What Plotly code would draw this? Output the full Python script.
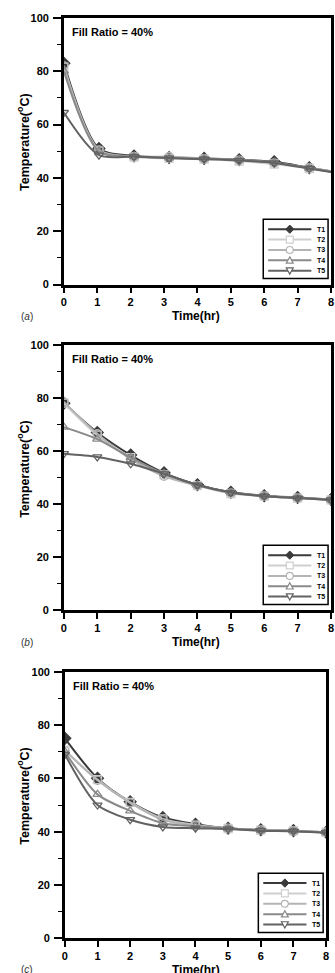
import plotly.graph_objects as go

# ---------------- data ----------------
series_names = ["T1", "T2", "T3", "T4", "T5"]

time_a = [0, 1.05, 2.1, 3.15, 4.2, 5.25, 6.3, 7.35, 8.4]
a_T1 = [83, 51, 48.2, 47.6, 47.3, 46.8, 46.0, 43.8, 41.6]
a_T2 = [81.5, 50, 47.8, 47.3, 47.0, 46.3, 45.2, 43.5, 41.5]
a_T3 = [82, 50.5, 48.0, 48.0, 47.2, 46.6, 45.6, 43.8, 41.7]
a_T4 = [80, 50, 48.0, 47.5, 47.2, 46.8, 45.8, 43.6, 41.6]
a_T5 = [64.5, 48.5, 48.0, 47.4, 47.0, 46.5, 45.6, 43.5, 41.4]

time_b = [0, 1, 2, 3, 4, 5, 6, 7, 8]
b_T1 = [78, 67, 58.5, 51.8, 47.3, 44.5, 43.2, 42.5, 41.8]
b_T2 = [78, 66, 57.5, 51.0, 47.0, 44.0, 43.0, 42.3, 41.6]
b_T3 = [78.5, 66.5, 57.0, 50.5, 47.0, 44.2, 43.0, 42.3, 41.6]
b_T4 = [69, 64.5, 57.5, 51.5, 47.2, 44.4, 43.1, 42.4, 41.7]
b_T5 = [59, 57.8, 55.2, 51.4, 47.2, 44.4, 43.0, 42.3, 41.6]

time_c = [0, 1, 2, 3, 4, 5, 6, 7, 8]
c_T1 = [75, 60, 51.2, 45.3, 42.8, 41.3, 40.7, 40.4, 39.8]
c_T2 = [70.6, 59.5, 51.0, 44.8, 42.5, 41.2, 40.6, 40.3, 39.8]
c_T3 = [70.4, 59.3, 50.8, 44.5, 42.3, 41.2, 40.6, 40.3, 39.8]
c_T4 = [70, 54, 47.8, 43.2, 42.0, 41.1, 40.5, 40.2, 39.7]
c_T5 = [69, 50, 44.5, 41.8, 41.3, 41.0, 40.4, 40.2, 39.6]

x_ticks = [0, 1, 2, 3, 4, 5, 6, 7, 8]
y_ticks = [0, 20, 40, 60, 80, 100]
panel_tags = ["a", "b", "c"]
fill_text = "Fill Ratio = 40%"

# ---------------- styles ----------------
colors = ["#3a3a3a", "#cfcfcf", "#b4b4b4", "#8a8a8a", "#626262"]
symbols = ["diamond", "square-open", "circle-open", "triangle-up-open", "triangle-down-open"]

panels = [
    (time_a, [a_T1, a_T2, a_T3, a_T4, a_T5]),
    (time_b, [b_T1, b_T2, b_T3, b_T4, b_T5]),
    (time_c, [c_T1, c_T2, c_T3, c_T4, c_T5]),
]

W, H = 335, 973
# plot-area pixel boxes (left, right, top, bottom)
boxes = [(62, 334, 12, 282), (62, 334, 343, 612), (63, 329, 674, 944)]

font_fam = "Liberation Sans, Arial, sans-serif"
fig = go.Figure()

for i, (t, vals) in enumerate(panels):
    sfx = "" if i == 0 else str(i + 1)
    for j, name in enumerate(series_names):
        fig.add_trace(go.Scatter(
            x=t, y=vals[j], name=name, mode="lines+markers",
            line=dict(color=colors[j], width=2, shape="spline", smoothing=0.8),
            marker=dict(symbol=symbols[j], size=9 if j == 0 else 8, color=colors[j],
                        line=dict(color=colors[j], width=1.3)),
            xaxis="x" + sfx, yaxis="y" + sfx, showlegend=False,
        ))

def px(x):
    return x / W

def py(y):
    return 1 - y / H

layout = dict(
    width=W, height=H, autosize=False,
    margin=dict(l=0, r=0, t=0, b=0),
    paper_bgcolor="white", plot_bgcolor="white",
    showlegend=False,
    annotations=[], shapes=[],
)

for i, (l, r, tp, bt) in enumerate(boxes):
    sfx = "" if i == 0 else str(i + 1)
    axis_common = dict(
        showline=True, linecolor="black", linewidth=2.5, mirror=True,
        showgrid=False, zeroline=False,
        ticks="outside", tickwidth=1.5, tickcolor="black",
        tickfont=dict(family=font_fam, size=11, color="black", weight="bold"),
    )
    layout["xaxis" + sfx] = dict(
        axis_common, domain=[px(l), px(r)], range=[0, 8], tickvals=x_ticks,
        ticklen=6, ticklabelstandoff=0, anchor="y" + sfx,
    )
    layout["yaxis" + sfx] = dict(
        axis_common, domain=[py(bt), py(tp)], range=[0, 100], tickvals=y_ticks,
        ticklen=8, ticklabelstandoff=2,
        minor=dict(ticks="outside", dtick=10, ticklen=4, tickwidth=1.2, tickcolor="black"),
        anchor="x" + sfx,
    )
    ann = layout["annotations"]
    ann.append(dict(
        text=fill_text, xref="paper", yref="paper",
        x=px(l + 6), y=py(tp + 14), xanchor="left", yanchor="middle",
        showarrow=False, font=dict(family=font_fam, size=11, color="black", weight="bold"),
    ))
    ann.append(dict(
        text="Time(hr)", xref="paper", yref="paper",
        x=px(197), y=py(bt + 32), xanchor="center", yanchor="middle",
        showarrow=False, font=dict(family=font_fam, size=12, color="black", weight="bold"),
    ))
    ann.append(dict(
        text="Temperature(<sup>o</sup>C)", xref="paper", yref="paper", textangle=-90,
        x=px(21), y=py(tp + 126), xanchor="center", yanchor="middle",
        showarrow=False, font=dict(family=font_fam, size=12.5, color="black", weight="bold"),
    ))
    ann.append(dict(
        text="(<i>" + panel_tags[i] + "</i>)", xref="paper", yref="paper",
        x=px(24), y=py(bt + 32), xanchor="center", yanchor="middle",
        showarrow=False, font=dict(family=font_fam, size=10, color="#333"),
    ))

    # ---- compact legend box (drawn as layout decorations) ----
    bw, bh = 66, 60
    bx1, by1 = r - 3, bt - 6
    bx0, by0 = bx1 - bw, by1 - bh
    shp = layout["shapes"]
    shp.append(dict(type="rect", xref="paper", yref="paper",
                    x0=px(bx0), x1=px(bx1), y0=py(by1), y1=py(by0),
                    fillcolor="white", line=dict(color="black", width=1.5), layer="above"))
    for j, name in enumerate(series_names):
        cy = by0 + 10 + j * 10.5
        lx0, lx1 = bx0 + 5, bx0 + 49
        mx = (lx0 + lx1) / 2
        c = colors[j]
        shp.append(dict(type="line", xref="paper", yref="paper",
                        x0=px(lx0), x1=px(lx1), y0=py(cy), y1=py(cy),
                        line=dict(color=c, width=2), layer="above"))
        s = 3.5
        if j == 0:
            path = f"M {px(mx)},{py(cy - s - 0.7)} L {px(mx + s + 0.7)},{py(cy)} L {px(mx)},{py(cy + s + 0.7)} L {px(mx - s - 0.7)},{py(cy)} Z"
            shp.append(dict(type="path", xref="paper", yref="paper", path=path,
                            fillcolor=c, line=dict(color=c, width=1), layer="above"))
        elif j == 1:
            shp.append(dict(type="rect", xref="paper", yref="paper",
                            x0=px(mx - s), x1=px(mx + s), y0=py(cy + s), y1=py(cy - s),
                            fillcolor="white", line=dict(color=c, width=1.2), layer="above"))
        elif j == 2:
            shp.append(dict(type="circle", xref="paper", yref="paper",
                            x0=px(mx - s), x1=px(mx + s), y0=py(cy + s), y1=py(cy - s),
                            fillcolor="white", line=dict(color=c, width=1.2), layer="above"))
        elif j == 3:
            path = f"M {px(mx)},{py(cy - s)} L {px(mx + s)},{py(cy + s * 0.8)} L {px(mx - s)},{py(cy + s * 0.8)} Z"
            shp.append(dict(type="path", xref="paper", yref="paper", path=path,
                            fillcolor="white", line=dict(color=c, width=1.2), layer="above"))
        else:
            path = f"M {px(mx)},{py(cy + s)} L {px(mx + s)},{py(cy - s * 0.8)} L {px(mx - s)},{py(cy - s * 0.8)} Z"
            shp.append(dict(type="path", xref="paper", yref="paper", path=path,
                            fillcolor="white", line=dict(color=c, width=1.2), layer="above"))
        ann.append(dict(
            text=name, xref="paper", yref="paper",
            x=px(lx1 + 4), y=py(cy), xanchor="left", yanchor="middle",
            showarrow=False, font=dict(family=font_fam, size=7, color="black", weight="bold"),
        ))

fig.update_layout(**layout)
fig.write_html("out.html")
